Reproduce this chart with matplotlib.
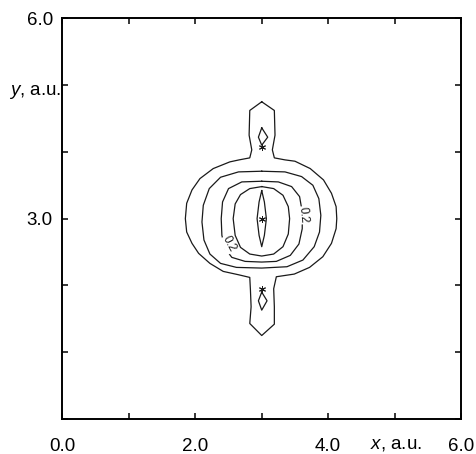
import matplotlib
matplotlib.use("Agg")
import matplotlib.pyplot as plt

plt.rcParams["font.family"] = ["Liberation Sans", "DejaVu Sans"]
plt.rcParams["mathtext.fontset"] = "custom"
plt.rcParams["mathtext.rm"] = "Liberation Sans"
plt.rcParams["mathtext.it"] = "Liberation Sans:italic"

# ---- contour lines of the density map (x, y in a.u.) ----
outer_x = [3.00, 3.19, 3.20, 3.16, 3.19, 3.35, 3.50, 3.73, 3.93, 4.05, 4.12, 4.13,
           4.12, 4.05, 3.92, 3.72, 3.49, 3.22, 3.18, 3.19, 3.19, 3.00, 2.82, 2.84,
           2.83, 2.82, 2.65, 2.42, 2.22, 2.05, 1.95, 1.87, 1.85, 1.87, 1.95, 2.07,
           2.27, 2.52, 2.66, 2.82, 2.85, 2.81, 2.82, 3.00]
outer_y = [4.75, 4.62, 4.25, 4.03, 3.91, 3.88, 3.86, 3.75, 3.58, 3.38, 3.18, 3.00,
           2.85, 2.63, 2.43, 2.27, 2.17, 2.13, 1.95, 1.68, 1.42, 1.25, 1.43, 1.68,
           1.93, 2.12, 2.16, 2.21, 2.33, 2.48, 2.63, 2.80, 3.00, 3.23, 3.43, 3.60,
           3.75, 3.85, 3.88, 3.91, 4.03, 4.25, 4.62, 4.75]

mid_x = [3.00, 3.35, 3.60, 3.77, 3.86, 3.89, 3.87, 3.79, 3.62, 3.38, 3.00, 2.62,
         2.38, 2.22, 2.13, 2.10, 2.12, 2.21, 2.38, 2.65, 3.00]
mid_y = [3.71, 3.70, 3.63, 3.50, 3.30, 3.05, 2.80, 2.58, 2.38, 2.28, 2.26, 2.27,
         2.33, 2.47, 2.68, 2.95, 3.20, 3.45, 3.62, 3.70, 3.71]

lev02_x = [3.00, 3.25, 3.45, 3.57, 3.61, 3.61, 3.56, 3.43, 3.22, 3.00, 2.75, 2.55,
           2.45, 2.40, 2.39, 2.41, 2.50, 2.70, 3.00]
lev02_y = [3.56, 3.55, 3.48, 3.33, 3.10, 2.85, 2.62, 2.45, 2.36, 2.35, 2.36, 2.42,
           2.55, 2.75, 3.00, 3.25, 3.45, 3.55, 3.56]

oval_x = [3.00, 3.18, 3.32, 3.40, 3.42, 3.40, 3.32, 3.18, 3.00, 2.82, 2.68, 2.60,
          2.57, 2.60, 2.68, 2.82, 3.00]
oval_y = [3.48, 3.45, 3.35, 3.18, 3.00, 2.77, 2.58, 2.47, 2.44, 2.47, 2.57, 2.75,
          3.00, 3.22, 3.36, 3.45, 3.48]

spindle_x = [3.00, 3.04, 3.07, 3.04, 3.00, 2.96, 2.93, 2.96, 3.00]
spindle_y = [3.42, 3.25, 3.00, 2.75, 2.58, 2.75, 3.00, 3.25, 3.42]

top_diamond_x = [3.00, 3.09, 3.00, 2.95, 3.00]
top_diamond_y = [4.36, 4.22, 4.10, 4.22, 4.36]
bot_diamond_x = [3.00, 3.08, 3.00, 2.95, 3.00]
bot_diamond_y = [1.90, 1.77, 1.63, 1.77, 1.90]

# nuclear positions
nuclei_x = [3.00, 3.00, 3.00]
nuclei_y = [3.00, 4.07, 1.94]

# contour labels: (x, y, rotation)
label_text = "0.2"
label_x = [3.62, 2.51]
label_y = [3.05, 2.62]
label_rot = [-85, -62]

xtick_vals = [0, 1, 2, 3, 4, 5, 6]
xtick_labels = ["0.0", "", "2.0", "", "4.0", "", "6.0"]
ytick_vals = [0, 1, 2, 3, 4, 5, 6]
ytick_labels = ["", "", "", "3.0", "", "", "6.0"]

fig = plt.figure(figsize=(4.77, 4.54), dpi=100)
ax = fig.add_axes([0.131, 0.0771, 0.8354, 0.8826])

line_kw = dict(color="#1a1a1a", lw=0.9)
for xs, ys in [(outer_x, outer_y), (mid_x, mid_y), (lev02_x, lev02_y),
               (oval_x, oval_y), (spindle_x, spindle_y),
               (top_diamond_x, top_diamond_y), (bot_diamond_x, bot_diamond_y)]:
    ax.plot(xs, ys, **line_kw)

ax.plot(nuclei_x, nuclei_y, linestyle="none", marker=(6, 2, 0),
        markersize=5, markeredgewidth=0.7, color="#1a1a1a")

for lx, ly, rot in zip(label_x, label_y, label_rot):
    ax.text(lx, ly, label_text, rotation=rot, fontsize=8.5,
            ha="center", va="center", color="#1a1a1a",
            bbox=dict(facecolor="white", edgecolor="none", pad=0.6))

ax.set_xlim(0, 6)
ax.set_ylim(0, 6)
ax.set_xticks(xtick_vals)
ax.set_xticklabels(xtick_labels)
ax.set_yticks(ytick_vals)
ax.set_yticklabels(ytick_labels)
ax.tick_params(direction="in", length=4, width=1.1, top=True, right=True,
               labelsize=13.5)
ax.tick_params(axis="x", pad=13.5)
ax.tick_params(axis="y", pad=7)
for sp in ax.spines.values():
    sp.set_linewidth(1.4)

ax.text(5.02, -0.385, "$x$, a.u.", fontsize=13.5, ha="center", va="center",
        clip_on=False)
ax.text(-0.002, 4.9, "$y$, a.u.", fontsize=13.5, ha="right", va="center",
        transform=ax.get_yaxis_transform(), clip_on=False)

fig.savefig("out.png", dpi=100)
